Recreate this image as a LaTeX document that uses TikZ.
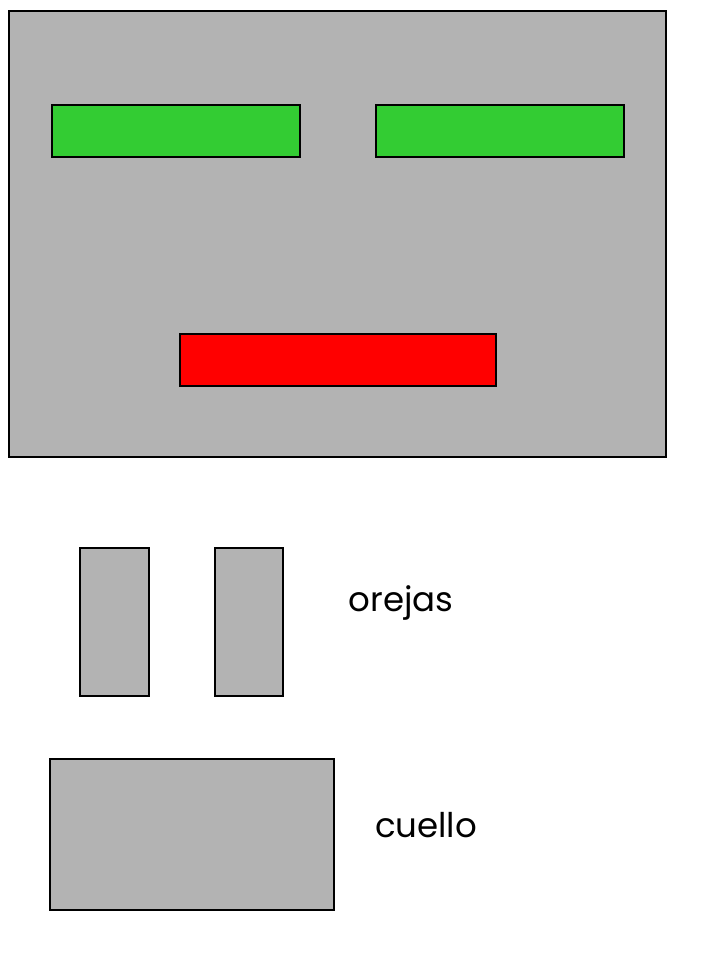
\documentclass[tikz,border=0pt]{standalone}
\usepackage{fontspec}
\setmainfont{Poppins}
\usepackage{tikz}
\usetikzlibrary{positioning}

\definecolor{facegray}{HTML}{B3B3B3}
\definecolor{eyegreen}{HTML}{33CC33}
\definecolor{mouthred}{HTML}{FF0000}

\tikzset{
	part/.style={draw=black, line width=1.5pt, fill=facegray},
	eye/.style={draw=black, line width=1.5pt, fill=eyegreen},
	mouth/.style={draw=black, line width=1.5pt, fill=mouthred},
	label/.style={font=\fontsize{34}{40}\selectfont, inner sep=0pt}
}

\begin{document}
\begin{tikzpicture}[x=1pt, y=-1pt]
	\useasboundingbox (0,0) rectangle (718,957);
	% cara
	\draw[part] (9,11) rectangle (666,457);
	\draw[eye] (52,105) rectangle (300,157);
	\draw[eye] (376,105) rectangle (624,157);
	\draw[mouth] (180,334) rectangle (496,386);
	% orejas
	\draw[part] (80,548) rectangle (149,696);
	\draw[part] (215,548) rectangle (283,696);
	\node[label] (orejas) at (401,603) {orejas};
	% cuello
	\draw[part] (50,759) rectangle (334,910);
	\node[label] (cuello) at (426,825) {cuello};
\end{tikzpicture}
\end{document}
